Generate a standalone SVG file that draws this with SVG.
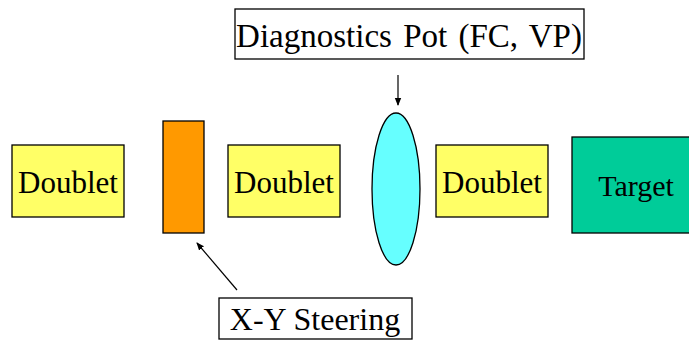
<svg xmlns="http://www.w3.org/2000/svg" width="689" height="347" viewBox="0 0 689 347">
<style>
text{font-family:"Liberation Serif","Times New Roman",serif;fill:#000;text-anchor:middle}
.b{stroke:#000;stroke-width:1.3}
.d{fill:#FFFF66}
.lbl{fill:#fff}
.c{stroke:#000;stroke-width:1.2;fill:none}
</style>
<defs>
<marker id="ah" markerWidth="8" markerHeight="8" refX="7" refY="4" orient="auto" markerUnits="userSpaceOnUse"><path d="M0,0.8 L8,4 L0,7.2 Z" fill="#000"/></marker>
</defs>
<rect width="689" height="347" fill="#fff"/>
<g id="doublet1"><rect class="b d" x="12" y="145" width="112" height="72"/><text x="68" y="193" font-size="31">Doublet</text></g>
<g id="steering"><rect class="b" x="163" y="121" width="41" height="112" fill="#FF9900"/></g>
<g id="doublet2"><rect class="b d" x="228" y="145" width="112" height="72"/><text x="284" y="193" font-size="31">Doublet</text></g>
<g id="pot"><ellipse class="b" cx="396" cy="189" rx="24" ry="76" fill="#66FFFF"/></g>
<g id="doublet3"><rect class="b d" x="436" y="145" width="112" height="72"/><text x="492" y="193" font-size="31">Doublet</text></g>
<g id="target"><rect class="b" x="572" y="137" width="125" height="96" fill="#00CC99"/><text x="636" y="196" font-size="30">Target</text></g>
<g id="diag-label"><rect class="b lbl" x="235" y="9" width="349" height="50"/><text x="409" y="47" font-size="33" word-spacing="3">Diagnostics Pot (FC, VP)</text></g>
<g id="xy-label"><rect class="b lbl" x="219" y="298" width="193" height="41"/><text x="315" y="330" font-size="32">X-Y Steering</text></g>
<g id="connectors">
<line class="c" x1="398" y1="75" x2="398" y2="105" marker-end="url(#ah)"/>
<line class="c" x1="237" y1="290" x2="197" y2="243" marker-end="url(#ah)"/>
</g>
</svg>
